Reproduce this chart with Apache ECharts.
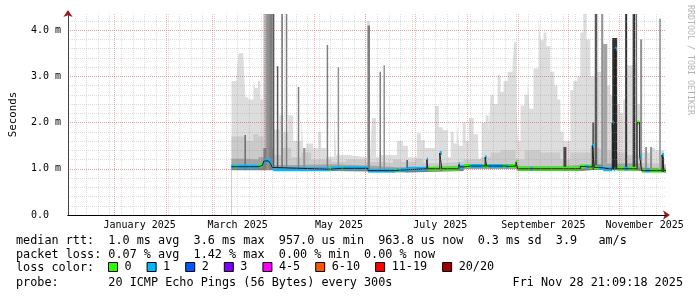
<!DOCTYPE html>
<html><head><meta charset="utf-8">
<script src="https://cdn.jsdelivr.net/npm/echarts@6/dist/echarts.min.js"></script>
<style>html,body{margin:0;padding:0;background:#fff}#c{width:697px;height:297px}</style>
</head><body><div id="c"></div>
<script>
// x values: days since 2025-01-01 00:00 ; y values: milliseconds
const X_MIN = -28.12, X_MAX = 331.88, Y_MAX = 4.35;
const monthStartDays = [0, 31, 59, 90, 120, 151, 181, 212, 243, 273, 304];
const monthLabelDays = [15, 74, 135, 196, 258, 319];
const monthLabels = ['January 2025', 'March 2025', 'May 2025', 'July 2025', 'September 2025', 'November 2025'];
const firstWeekLine = -24, weekStep = 7;
const yLabels = ['0.0', '1.0 m', '2.0 m', '3.0 m', '4.0 m'];

// smoke: [dayStart, top ms] steps (outer pings -> inner pings)
const smokeLight = [[70.3,2.9],[73.3,3.0],[74.5,3.5],[77.5,3.35],[78.7,2.55],[80.5,2.5],[83.5,2.94],[84.4,2.75],[86.2,2.9],[87.7,2.5],[89.5,4.35],[95.5,1.85],[99.1,2.16],[101.5,1.8],[104.5,2.16],[107.5,1.6],[112.3,2.1],[113.5,1.45],[115.3,1.55],[119.5,1.45],[122.5,1.8],[124.3,1.45],[127.3,1.26],[132.1,2.25],[133.3,1.3],[141.1,1.28],[144.1,1.25],[151.9,4.2],[153.7,1.25],[154.9,2.1],[157.3,1.25],[159.1,1.3],[169.9,1.6],[173.5,1.5],[176.5,1.25],[181.9,1.77],[184.3,1.62],[186.7,1.45],[192.7,2.36],[195.1,1.9],[197.5,1.84],[200.5,1.25],[202.3,1.8],[204.1,1.55],[205.9,2.0],[207.1,1.5],[209.5,2.0],[211.3,1.6],[213.1,2.1],[216.1,1.75],[218.5,1.9],[219.1,1.22],[220.9,2.0],[223.3,2.16],[225.1,1.8],[226.3,2.6],[228.1,2.4],[230.5,3.03],[232.3,2.66],[234.1,2.9],[236.5,3.1],[239.5,3.24],[240.4,3.74],[241.9,2.3],[242.8,1.6],[244.3,2.37],[246.7,2.6],[248.5,2.93],[249.7,2.3],[252.1,3.17],[255.1,4.28],[256.3,3.78],[258.1,3.95],[259.9,3.65],[262.3,3.1],[264.7,2.8],[266.5,2.5],[268.3,1.8],[270.1,1.6],[274.3,2.7],[276.1,2.9],[278.5,3.0],[280.3,3.95],[282.1,4.35],[283.9,3.8],[286.3,3.0],[290.5,3.1],[292.9,4.35],[294.1,3.7],[296.5,2.8],[298.3,2.6],[302.5,2.4],[304.3,2.2],[306.1,2.5],[308.5,3.24],[311.5,3.24],[314.5,2.4],[316.9,3.8],[317.5,1.35],[322.3,1.45],[325.3,1.4],[327.7,4.3],[328.9,1.4],[330.7,1.23]];
const smokeMid = [[70.3,1.7],[78.7,1.6],[83.5,1.75],[86.5,1.7],[89.5,4.35],[95.5,1.3],[100.3,1.45],[106.3,1.25],[112.3,1.35],[118.3,1.2],[130.3,1.15],[139.3,1.2],[151.3,1.15],[160.3,1.12],[167.5,1.2],[172.3,1.15],[181.3,1.22],[185.5,1.12],[196.3,1.15],[210.1,1.2],[220.3,1.25],[226.3,1.35],[232.3,1.4],[241.3,1.2],[246.7,1.4],[256.3,1.35],[268.3,1.2],[274.3,1.35],[286.3,1.45],[292.3,1.4],[299.5,1.35],[307.3,1.3],[316.3,1.12],[325.3,1.1]];
const smokeInner = [[70.3,1.22],[78.7,1.2],[86.5,1.25],[90.7,4.35],[95.5,1.08],[112.3,1.1],[130.3,1.07],[152.5,1.03],[172.3,1.05],[196.3,1.07],[210.1,1.11],[242.5,1.06],[268.3,1.08],[280.3,1.11],[292.3,1.12],[317.2,1.02]];
const smokeCore = [[70.3,1.08],[86.5,1.11],[89.5,1.45],[95.5,1.02],[130.3,1.04],[152.5,0.99],[176.5,1.03],[210.1,1.09],[242.5,1.03],[280.3,1.08],[294.1,1.02],[317.2,0.99]];
const smokeFloor = [[70.3,0.97],[95.5,0.94],[152.5,0.92],[176.5,0.95],[210.1,1.0],[242.5,0.95],[280.3,0.99],[294.1,0.95],[317.2,0.92]];
// dense ping slots: [dayStart, dayEnd, top ms, pings above (1..10)]
const smokeSpikes = [[78.1,79.0,1.73,7],[91.3,93.1,4.35,5],[93.1,94.9,4.35,6],[95.2,96.1,4.35,8],[97.6,98.5,3.22,8],[100.3,101.2,4.35,7],[103.0,103.9,4.35,6],[110.2,111.1,2.77,6],[113.5,114.7,1.45,5],[127.6,128.5,3.68,6],[134.2,135.1,3.2,5],[152.2,153.7,4.1,6],[159.4,160.3,3.1,6],[161.8,162.7,3.24,5],[175.6,176.5,1.19,8],[270.1,271.9,1.47,9],[287.5,288.7,2.0,8],[289.0,290.5,4.35,8],[292.9,294.1,4.35,5],[294.1,296.5,3.7,4],[299.5,302.5,3.83,10],[307.3,308.5,4.35,10],[311.8,313.3,4.35,10],[313.6,314.5,4.35,7],[316.3,317.5,3.8,5],[319.3,320.5,1.47,5],[322.3,323.5,1.47,5],[327.7,328.9,4.25,4],[329.5,330.7,1.3,9]];
// median rtt: [dayStart, ms, lost pings level index]
const medianSteps = [[70.3,1.045,1],[72.1,1.045,0],[73.0,1.045,1],[86.5,1.07,0],[88.9,1.1,1],[89.8,1.17,1],[92.5,1.19,1],[93.7,1.12,1],[94.9,1.03,1],[95.5,0.99,1],[129.1,0.99,0],[130.3,1.01,1],[136.6,1.01,0],[137.5,1.01,1],[152.5,0.96,1],[168.7,0.96,0],[169.3,0.97,1],[171.1,0.97,0],[172.0,0.98,1],[176.5,1.0,1],[187.9,1.2,1],[188.5,1.0,0],[195.7,1.34,1],[196.9,1.0,0],[207.1,1.1,1],[207.7,1.04,1],[210.1,1.06,0],[214.3,1.06,1],[221.5,1.06,0],[223.0,1.25,1],[223.9,1.06,0],[225.1,1.06,1],[227.5,1.06,1],[233.5,1.06,0],[235.3,1.05,1],[237.1,1.06,0],[241.6,1.15,0],[242.5,1.0,0],[250.3,1.0,1],[251.5,1.0,0],[280.3,1.05,0],[283.3,1.04,1],[285.1,1.04,0],[287.5,1.5,1],[288.7,1.03,0],[291.1,1.02,1],[294.1,0.99,1],[299.5,2.0,1],[300.4,0.99,1],[301.3,3.6,1],[302.2,1.0,0],[306.7,1.0,1],[309.1,1.0,0],[314.5,2.0,0],[316.0,1.28,1],[317.2,0.96,0],[319.3,0.96,1],[322.3,0.96,0],[329.5,1.3,1],[330.7,0.96,0]];
const lossLabels = ['0', '1', '2', '3', '4-5', '6-10', '11-19', '20/20'];
const lossColors = ['#26ff00', '#00b8ff', '#0059ff', '#7e00ff', '#ff00ff', '#ff5500', '#ff0000', '#a10000'];

const statsRtt = 'median rtt:  1.0 ms avg  3.6 ms max  957.0 us min  963.8 us now  0.3 ms sd  3.9   am/s';
const statsLoss = 'packet loss: 0.07 % avg  1.42 % max  0.00 % min  0.00 % now';
const lossTitle = 'loss color:';
const probeText = 'probe:       20 ICMP Echo Pings (56 Bytes) every 300s';
const stampText = 'Fri Nov 28 21:09:18 2025';
const watermark = 'RRDTOOL / TOBI OETIKER';

const FONT = 'DejaVu Sans Mono';
const weekDays = [];
for (let d = firstWeekLine; d <= X_MAX; d += weekStep) weekDays.push(d);
const shade = lvl => { const g = Math.floor(190 / 10 * (10 - lvl)) + 50; return 'rgb(' + g + ',' + g + ',' + g + ')'; };
const stepData = arr => { const p = arr.map(a => [a[0], a[1]]); p.push([X_MAX, arr[arr.length - 1][1]]); return p; };
const medianSegs = medianSteps.map((s, i) => [s[0], i + 1 < medianSteps.length ? medianSteps[i + 1][0] : X_MAX, s[1], s[2]]);

function areaSeries(arr, color) {
  return { type: 'line', step: 'end', data: stepData(arr), showSymbol: false, silent: true,
    lineStyle: { width: 0 }, areaStyle: { color: color, opacity: 1 }, z: 2 };
}
const lossSeries = lossLabels.map((name, k) => ({
  type: 'custom', name: name, z: 2, silent: true,
  itemStyle: { color: lossColors[k] },
  encode: { x: [0, 1], y: 2 },
  data: medianSegs.filter(s => s[3] === k),
  renderItem: (params, api) => {
    const a = api.coord([api.value(0), api.value(2)]);
    const b = api.coord([api.value(1), api.value(2)]);
    return { type: 'rect', shape: { x: a[0], y: a[1] - 2, width: Math.max(b[0] - a[0], 1.2), height: 4 },
      style: { fill: lossColors[k] } };
  }
}));

const gridGray = 'rgba(150,150,150,0.32)';
const gridRed = 'rgba(230,70,70,0.42)';
const arrowRed = '#a01818';

const option = {
  animation: false,
  backgroundColor: '#fff',
  grid: { left: 66, top: 14, width: 600, height: 201 },
  xAxis: [
    { type: 'value', min: X_MIN, max: X_MAX, position: 'bottom', z: 4,
      axisLine: { show: true, onZero: false, lineStyle: { color: '#000', width: 1 } },
      axisTick: { show: false }, splitLine: { show: false },
      axisLabel: { customValues: monthLabelDays, margin: 5, color: '#000', fontFamily: FONT, fontSize: 10,
        formatter: v => monthLabels[monthLabelDays.indexOf(v)] || '' } },
    { type: 'value', min: X_MIN, max: X_MAX, position: 'bottom', z: 3,
      axisLine: { show: false, onZero: false }, axisLabel: { show: false },
      axisTick: { show: false, customValues: weekDays },
      splitLine: { show: true, lineStyle: { color: gridGray, width: 1, type: [1, 1] } } },
    { type: 'value', min: X_MIN, max: X_MAX, position: 'bottom', z: 3,
      axisLine: { show: true, onZero: false, symbol: ['none', 'arrow'], symbolSize: [7, 7], symbolOffset: [0, 4],
        lineStyle: { color: arrowRed, width: 1 } },
      axisLabel: { show: false },
      axisTick: { show: false, customValues: monthStartDays },
      splitLine: { show: true, lineStyle: { color: gridRed, width: 1, type: [1, 1] } } }
  ],
  yAxis: [
    { type: 'value', min: 0, max: Y_MAX, interval: 1, z: 4,
      axisLine: { show: true, onZero: false, lineStyle: { color: '#444', width: 1 } },
      axisTick: { show: false },
      axisLabel: { align: 'left', margin: 37, color: '#000', fontFamily: FONT, fontSize: 10, showMaxLabel: false,
        formatter: v => yLabels[Math.round(v)] },
      splitLine: { show: true, showMinLine: false, showMaxLine: false, lineStyle: { color: gridRed, width: 1, type: [1, 1] } },
      name: 'Seconds', nameLocation: 'middle', nameRotate: 90, nameGap: 49,
      nameTextStyle: { color: '#000', fontFamily: FONT, fontSize: 10.8 } },
    { type: 'value', min: 0, max: Y_MAX, interval: 0.2, z: 3, position: 'left',
      axisLine: { show: true, onZero: false, symbol: ['none', 'arrow'], symbolSize: [7, 7], symbolOffset: [0, 4],
        lineStyle: { color: arrowRed, width: 1 } },
      axisTick: { show: false }, axisLabel: { show: false },
      splitLine: { show: true, showMinLine: false, showMaxLine: false, lineStyle: { color: gridGray, width: 1, type: [1, 1] } } }
  ],
  legend: { data: lossLabels, left: 108, top: 261, padding: 0, itemWidth: 9, itemHeight: 9, itemGap: 15,
    icon: 'rect', selectedMode: false, itemStyle: { borderColor: '#000', borderWidth: 1 },
    textStyle: { color: '#000', fontFamily: FONT, fontSize: 11.8, padding: [0, 0, 0, 2] } },
  series: [
    areaSeries(smokeLight, shade(1)),
    areaSeries(smokeMid, shade(2)),
    areaSeries(smokeInner, shade(4)),
    areaSeries(smokeCore, shade(6)),
    { type: 'custom', z: 2, silent: true, encode: { x: [0, 1], y: 2 }, data: smokeSpikes,
      renderItem: (params, api) => {
        const a = api.coord([api.value(0), api.value(2)]);
        const b = api.coord([api.value(1), 0]);
        return { type: 'rect', shape: { x: a[0], y: a[1], width: Math.max(b[0] - a[0], 1), height: b[1] - a[1] },
          style: { fill: shade(api.value(3)) } };
      } },
    areaSeries(smokeFloor, '#ffffff'),
    { type: 'line', step: 'end', data: stepData(medianSteps), showSymbol: false, silent: true, z: 2,
      lineStyle: { color: '#202020', width: 1 } },
    ...lossSeries
  ],
  graphic: [
    { type: 'text', x: 16, y: 241, style: { text: statsRtt, fill: '#000', font: '11.8px "' + FONT + '"', verticalAlign: 'middle' } },
    { type: 'text', x: 16, y: 254.5, style: { text: statsLoss, fill: '#000', font: '11.8px "' + FONT + '"', verticalAlign: 'middle' } },
    { type: 'text', x: 16, y: 268, style: { text: lossTitle, fill: '#000', font: '11.8px "' + FONT + '"', verticalAlign: 'middle' } },
    { type: 'text', x: 16, y: 283, style: { text: probeText, fill: '#000', font: '11.8px "' + FONT + '"', verticalAlign: 'middle' } },
    { type: 'text', x: 683, y: 283, style: { text: stampText, fill: '#000', font: '11.8px "' + FONT + '"', align: 'right', verticalAlign: 'middle' } },
    { type: 'text', x: 690, y: 5, rotation: -Math.PI / 2, style: { text: watermark, fill: '#b4b4b4', font: '8.3px "' + FONT + '"', align: 'left', verticalAlign: 'middle' } }
  ]
};
echarts.init(document.getElementById('c'), null, { renderer: 'canvas' }).setOption(option);
</script></body></html>
